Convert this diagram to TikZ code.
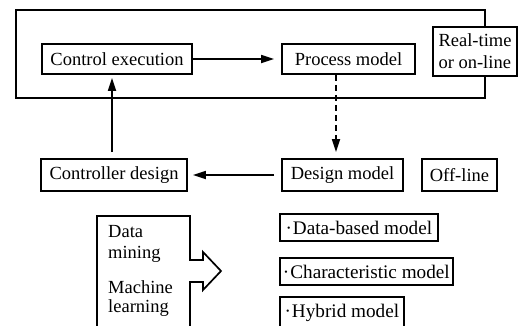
\documentclass[tikz,border=0pt]{standalone}
\usepackage{fontspec}
\setmainfont{Liberation Serif}
\usetikzlibrary{arrows.meta}
\begin{document}
\begin{tikzpicture}[x=1pt,y=-1pt,
  every node/.style={font=\fontsize{18.5}{22}\selectfont, inner sep=0pt},
  box/.style={draw, line width=1.7pt, fill=white, minimum height=30pt},
  rbox/.style={box, anchor=west, font=\fontsize{19.2}{22}\selectfont},
  arr/.style={line width=1.7pt, -{Triangle[length=13pt,width=8pt]}},
  dsh/.style={dash pattern=on 6pt off 4pt},
  frame/.style={draw, line width=1.7pt},
  lbl/.style={anchor=base west},
]
\useasboundingbox (0,0) rectangle (518,325);
% real-time frame
\draw[frame] (15.7,10) rectangle (485,98);
\node[box, minimum width=150pt] (ce) at (117,59) {Control execution};
\node[box, minimum width=133pt] (pm) at (348.5,59) {Process model};
\node[box, minimum width=84pt, minimum height=49pt, align=left] (rt) at (475,51.5) {Real-time\\or on-line};
% off-line row
\node[box, minimum width=146pt, minimum height=32pt] (cd) at (114,175) {Controller design};
\node[box, minimum width=121pt, minimum height=32pt] (dmod) at (342.5,175) {Design model};
\node[box, minimum width=75pt, minimum height=32pt] (ol) at (459.5,175) {Off-line};
% connectors
\coordinate (vx) at (112,0);
\coordinate (dx) at (336,0);
\draw[arr, shorten <=6pt, shorten >=3pt] (cd.north -| vx) -- (ce.south -| vx);
\draw[arr, shorten >=7pt] (ce.east) -- (pm.west);
\draw[arr, dsh, shorten >=6pt] (pm.south -| dx) -- (dmod.north -| dx);
\draw[arr, shorten <=7pt, shorten >=5pt] (dmod.west) -- (cd.east);
% data mining arrow shape
\draw[line width=1.7pt] (97,216) -- (190,216) -- (190,260) -- (203,260) -- (203,252)
  -- (221,271) -- (203,290) -- (203,282) -- (190,282) -- (190,330) -- (97,330) -- cycle;
\node[lbl] (t1) at (108,237) {Data};
\node[lbl] (t2) at (108,258) {mining};
\node[lbl] (t3) at (108,293) {Machine};
\node[lbl] (t4) at (108,312) {learning};
% model boxes
\node[rbox, minimum height=27pt, minimum width=158pt] (db) at (279,227.5) {·\kern1pt Data-based model};
\node[rbox, minimum height=27pt, minimum width=173pt] (cm) at (279,271.5) {·\kern1pt Characteristic model};
\node[rbox, minimum height=32pt, minimum width=124pt] (hm) at (279,313) {·\kern1pt Hybrid model};
\end{tikzpicture}
\end{document}
